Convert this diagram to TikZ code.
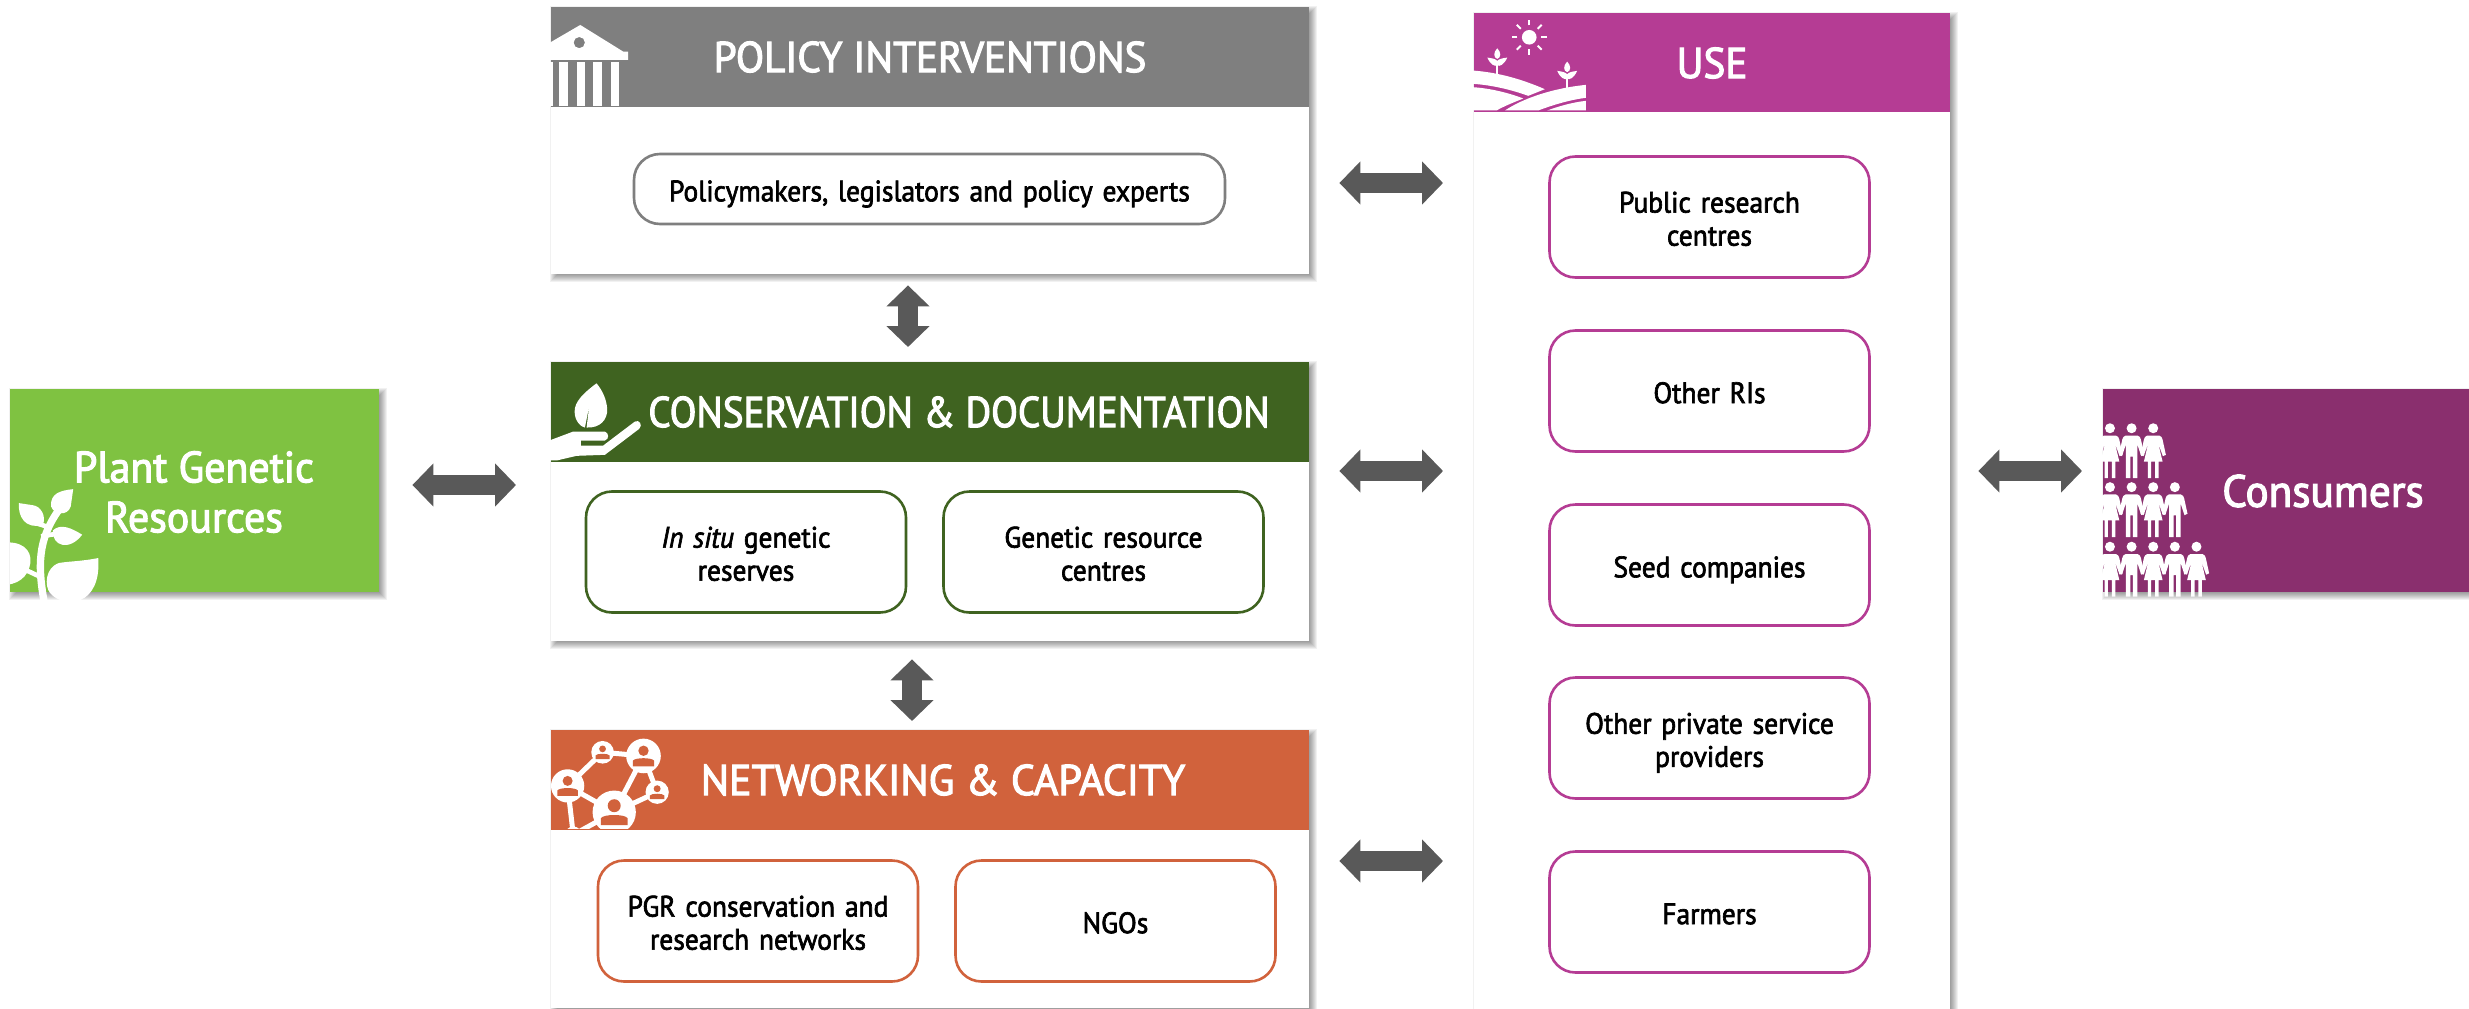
\documentclass[tikz,border=0pt]{standalone}
\usepackage{fontspec}
\setmainfont{PT Sans}[FakeBold=2.2,FakeStretch=0.93]
\newfontfamily\titlefont{PT Sans}[FakeBold=2.6,FakeStretch=0.96]
\usetikzlibrary{arrows.meta,backgrounds}
\definecolor{cPlant}{HTML}{7FC241}
\definecolor{cGrey}{HTML}{7F7F7F}
\definecolor{cCons}{HTML}{3F6320}
\definecolor{cNet}{HTML}{D1623C}
\definecolor{cUse}{HTML}{B53C94}
\definecolor{cPeople}{HTML}{8A2F6E}
\definecolor{cArrow}{HTML}{595959}
\newcommand{\px}{*0.01cm}
\newcommand{\softshadow}[1]{\foreach \k in {-4,...,4}{\fill[black,fill opacity=.055] ([shift={(4-\k,4-\k)}]#1.north west) rectangle ([shift={(4+\k,4+\k)}]#1.south east);}}
\tikzset{
  x=0.01cm,y=-0.01cm,
  panel/.style={fill=white,anchor=north west,inner sep=0pt,minimum width=#1\px},
  band/.style={fill=#1,anchor=north west,inner sep=0pt},
  titletext/.style={text=white,font=\titlefont\fontsize{12.2}{14}\selectfont,inner sep=0pt},
  bigtext/.style={text=white,font=\titlefont\fontsize{12.4}{14.2}\selectfont,align=center,inner sep=0pt},
  inner/.style={draw=#1,line width=2.6\px,rounded corners=26\px,fill=white,inner sep=0pt,minimum width=320\px,minimum height=121\px,align=center,text width=300\px,font=\fontsize{8.4}{9.4}\selectfont,execute at begin node={\rule{0pt}{7pt}}},
  blockarrow/.style={draw=cArrow,line width=20\px,{Triangle[length=21\px,width=42\px,color=cArrow]}-{Triangle[length=21\px,width=42\px,color=cArrow]}},
  zoomicon/.style={x=0.0033333cm,y=-0.0033333cm},
}
\begin{document}
\begin{tikzpicture}
\useasboundingbox (0,0) rectangle (2469,1009);
\begin{scope}[on background layer]
\fill[white] (0,0) rectangle (2469,1009);
\end{scope}

% boxes
\node[band=cPlant,minimum width=369\px,minimum height=203\px] (plant) at (9,388) {};
\node[panel=758,minimum height=267\px] (policy) at (550,6) {};
\node[panel=758,minimum height=279\px] (cons) at (550,361) {};
\node[panel=758,minimum height=278\px] (net) at (550,729) {};
\node[panel=476,minimum height=1003\px] (use) at (1473,12) {};
\node[band=cPeople,minimum width=380\px,minimum height=203\px] (people) at (2102,388) {};
\begin{scope}[on background layer]
  \softshadow{plant}\softshadow{policy}\softshadow{cons}\softshadow{net}\softshadow{use}\softshadow{people}
\end{scope}

% header bands
\node[band=cGrey,minimum width=758\px,minimum height=100\px] (policyhead) at (550,6) {};
\node[band=cCons,minimum width=758\px,minimum height=100\px] (conshead) at (550,361) {};
\node[band=cNet,minimum width=758\px,minimum height=100\px] (nethead) at (550,729) {};
\node[band=cUse,minimum width=476\px,minimum height=99\px] (usehead) at (1473,12) {};

% titles
\node[titletext] (policytitle) at (930,57) {POLICY INTERVENTIONS};
\node[titletext,xscale=.95] (constitle) at (959,412) {CONSERVATION \& DOCUMENTATION};
\node[titletext,xscale=1.02] (nettitle) at (943,780) {NETWORKING \& CAPACITY};
\node[titletext] (usetitle) at (1712,63) {USE};
\node[bigtext] (planttitle) at (194,492) {Plant Genetic\\Resources};
\node[bigtext,font=\titlefont\fontsize{12.8}{14.2}\selectfont] (peopletitle) at (2323,491) {Consumers};

% inner boxes
\node[inner=cGrey,minimum width=591\px,minimum height=70\px,text width=570\px] (pol1) at (929.5,189) {\smash{Policymakers, legislators and policy experts}};
\node[inner=cCons] (cons1) at (746,552) {\textit{In situ} genetic\\reserves};
\node[inner=cCons] (cons2) at (1103.5,552) {Genetic resource\\centres};
\node[inner=cNet] (net1) at (758,921) {PGR conservation and\\research networks};
\node[inner=cNet] (net2) at (1115.5,921) {NGOs};
\node[inner=cUse] (use1) at (1709.5,217) {Public research\\centres};
\node[inner=cUse] (use2) at (1709.5,391) {Other RIs};
\node[inner=cUse] (use3) at (1709.5,565) {\smash{Seed companies}};
\node[inner=cUse] (use4) at (1709.5,738) {Other private service\\\smash{providers}};
\node[inner=cUse] (use5) at (1709.5,912) {Farmers};

% block arrows
\coordinate (rowA) at (0,485);
\coordinate (rowB) at (0,183);
\coordinate (rowC) at (0,471);
\coordinate (rowD) at (0,861);
\coordinate (colA) at (908,0);
\coordinate (colB) at (912,0);
\draw[blockarrow,shorten <=33\px,shorten >=34\px] (plant.east |- rowA) -- (cons.west |- rowA);
\draw[blockarrow,shorten <=30\px,shorten >=30\px] (policy.east |- rowB) -- (use.west |- rowB);
\draw[blockarrow,shorten <=30\px,shorten >=30\px] (cons.east |- rowC) -- (use.west |- rowC);
\draw[blockarrow,shorten <=30\px,shorten >=30\px] (net.east |- rowD) -- (use.west |- rowD);
\draw[blockarrow,shorten <=28\px,shorten >=20\px] (use.east |- rowC) -- (people.west |- rowC);
\draw[blockarrow,shorten <=11\px,shorten >=14\px] (colA |- policy.south) -- (colA |- cons.north);
\draw[blockarrow,shorten <=18\px,shorten >=8\px] (colB |- cons.south) -- (colB |- net.north);

% temple icon
\begin{scope}[shift={(540,0)},zoomicon]
  \clip (30,18) rectangle (300,318);
  \fill[white,even odd rule] (121,75) -- (30,128) -- (30,180) -- (265,180) -- (265,155) -- (250,155) -- cycle (118,128) circle (17);
  \foreach \a in {15,58,110,160,212}{\fill[white] (\a,187) rectangle (\a+25,318);}
\end{scope}

% leaf and hand icon
\begin{scope}[shift={(540,350)},zoomicon]
  \clip (30,33) rectangle (320,332);
  \fill[white] (170,100) .. controls (130,130) and (104,155) .. (104,185) .. controls (104,215) and (125,232) .. (135,233) -- (148,168) -- (140,233) .. controls (180,235) and (203,210) .. (202,178) .. controls (200,150) and (190,125) .. (170,100) -- cycle;
  \fill[white] (20,275) -- (100,245) -- (195,245) .. controls (208,250) and (208,268) .. (195,272) -- (123,272) -- (123,287) -- (190,287) -- (285,215) .. controls (298,208) and (310,225) .. (298,237) -- (195,315) -- (110,318) -- (50,332) -- (20,332) -- cycle;
\end{scope}

% network icon
\begin{scope}[shift={(540,720)},zoomicon]
  \clip (30,27) rectangle (400,326);
  \draw[white,line width=15*0.0033333cm] (83,198) -- (188,97) -- (311,108) -- (352,217) -- (223,277) -- (311,108);
  \draw[white,line width=15*0.0033333cm] (83,198) -- (223,277) -- (100,345) -- cycle;
  \foreach \cx/\cy/\r in {83/198/50,188/97/34,311/108/52,352/217/35,223/277/65,100/345/25}{
    \fill[white] (\cx,\cy) circle (\r);
    \fill[cNet] (\cx,\cy-0.3*\r) circle (0.3*\r);
    \fill[cNet] (\cx-0.62*\r,\cy+0.6*\r) -- (\cx-0.62*\r,\cy+0.28*\r) .. controls (\cx-0.5*\r,\cy+0.08*\r) and (\cx+0.5*\r,\cy+0.08*\r) .. (\cx+0.62*\r,\cy+0.28*\r) -- (\cx+0.62*\r,\cy+0.6*\r) -- cycle;
  }
\end{scope}

% field icon
\begin{scope}[shift={(1460,0)},zoomicon]
  \clip (39,36) rectangle (378,332);
  \fill[white] (208,112) circle (22);
  \foreach \ang in {0,45,...,315}{\draw[white,line width=6*0.0033333cm] (208,112) ++(\ang:36) -- ++(\ang:17);}
  \foreach \sx/\sy in {112/145,322/185}{
    \fill[white] (\sx,\sy) .. controls (\sx-12,\sy+12) and (\sx-12,\sy+28) .. (\sx,\sy+32) .. controls (\sx+12,\sy+28) and (\sx+12,\sy+12) .. (\sx,\sy) -- cycle;
    \fill[white] (\sx-30,\sy+28) .. controls (\sx-20,\sy+50) and (\sx-8,\sy+55) .. (\sx,\sy+52) .. controls (\sx+8,\sy+55) and (\sx+20,\sy+50) .. (\sx+30,\sy+28) .. controls (\sx+15,\sy+30) and (\sx+5,\sy+32) .. (\sx,\sy+38) .. controls (\sx-5,\sy+32) and (\sx-15,\sy+30) .. (\sx-30,\sy+28) -- cycle;
    \draw[white,line width=5*0.0033333cm] (\sx,\sy+40) -- (\sx,\sy+78);
  }
  \fill[white] (39,212) .. controls (120,218) and (190,240) .. (255,268) -- (205,288) .. controls (150,268) and (90,255) .. (39,252) -- cycle;
  \fill[white] (39,262) .. controls (90,265) and (150,280) .. (190,296) .. controls (160,308) and (130,320) .. (110,332) -- (39,332) -- cycle;
  \fill[white] (378,255) .. controls (280,265) and (190,295) .. (135,332) -- (235,332) .. controls (280,315) and (330,300) .. (378,294) -- cycle;
  \fill[white] (378,303) .. controls (335,308) and (295,320) .. (262,332) -- (378,332) -- cycle;
\end{scope}

% seedling icon
\begin{scope}[shift={(0,360)},x=0.0035714cm,y=-0.0033333cm]
  \clip (28,200) rectangle (400,735);
  \draw[white,line width=22*0.0033333cm] (125,735) .. controls (105,620) and (105,540) .. (165,450);
  \draw[white,line width=14*0.0033333cm] (115,530) -- (170,520);
  \draw[white,line width=14*0.0033333cm] (70,630) -- (110,650);
  \draw[white,line width=14*0.0033333cm] (130,500) -- (100,490);
  \fill[white] (205,388) .. controls (170,392) and (140,400) .. (143,440) .. controls (150,465) and (190,470) .. (198,440) -- cycle;
  \fill[white] (53,430) .. controls (50,470) and (70,510) .. (120,495) .. controls (130,470) and (115,438) .. (90,436) -- cycle;
  \fill[white] (230,525) .. controls (200,505) and (170,490) .. (148,512) .. controls (145,560) and (195,575) .. (230,525) -- cycle;
  \fill[white] (0,550) .. controls (60,540) and (90,570) .. (85,610) .. controls (80,650) and (50,680) .. (0,675) -- cycle;
  \fill[white] (275,595) .. controls (230,605) and (190,605) .. (165,610) .. controls (125,625) and (125,680) .. (140,700) .. controls (180,750) and (285,740) .. (275,595) -- cycle;
\end{scope}

% people icon
\begin{scope}[shift={(2080,370)},zoomicon]
  \clip (66,100) rectangle (400,685);
  \foreach \py/\n in {175/3,352/4,531/5}{
    \foreach \i in {1,...,\n}{
      \pgfmathsetmacro{\hx}{25+65*\i}
      \pgfmathtruncatemacro{\odd}{mod(\i,2)}
      \fill[white] (\hx,\py) circle (15);
      \ifnum\odd=1
        \fill[white] (\hx-18,\py+22) -- (\hx+18,\py+22) .. controls (\hx+25,\py+24) and (\hx+26,\py+28) .. (\hx+28,\py+34) -- (\hx+38,\py+80) -- (\hx+29,\py+84) -- (\hx+15,\py+45) -- (\hx+28,\py+100) -- (\hx+16,\py+100) -- (\hx+16,\py+150) -- (\hx+6,\py+150) -- (\hx+6,\py+100) -- (\hx-6,\py+100) -- (\hx-6,\py+150) -- (\hx-16,\py+150) -- (\hx-16,\py+100) -- (\hx-28,\py+100) -- (\hx-15,\py+45) -- (\hx-29,\py+84) -- (\hx-38,\py+80) -- (\hx-28,\py+34) .. controls (\hx-26,\py+28) and (\hx-25,\py+24) .. (\hx-18,\py+22) -- cycle;
      \else
        \fill[white] (\hx-18,\py+22) -- (\hx+18,\py+22) .. controls (\hx+25,\py+24) and (\hx+26,\py+28) .. (\hx+28,\py+34) -- (\hx+38,\py+80) -- (\hx+29,\py+84) -- (\hx+17,\py+48) -- (\hx+17,\py+150) -- (\hx+4,\py+150) -- (\hx+4,\py+85) -- (\hx-4,\py+85) -- (\hx-4,\py+150) -- (\hx-17,\py+150) -- (\hx-17,\py+48) -- (\hx-29,\py+84) -- (\hx-38,\py+80) -- (\hx-28,\py+34) .. controls (\hx-26,\py+28) and (\hx-25,\py+24) .. (\hx-18,\py+22) -- cycle;
      \fi
    }
  }
\end{scope}
\end{tikzpicture}
\end{document}
